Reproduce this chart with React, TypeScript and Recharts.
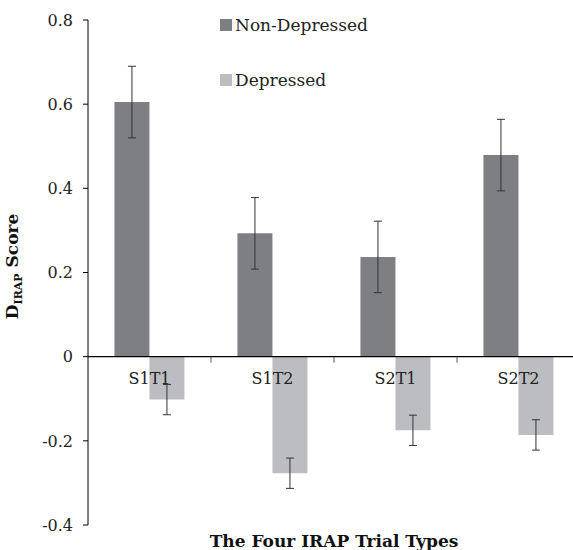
import { BarChart, Bar, XAxis, YAxis, ErrorBar, ReferenceLine, Label } from "recharts"

const categories = ["S1T1", "S1T2", "S2T1", "S2T2"]
const nonDepressed = [0.605, 0.293, 0.237, 0.479]
const nonDepressedErr = [0.085, 0.085, 0.085, 0.085]
const depressed = [-0.102, -0.277, -0.175, -0.186]
const depressedErr = [0.036, 0.036, 0.036, 0.036]
const yTicks = [-0.4, -0.2, 0, 0.2, 0.4, 0.6, 0.8]

const data = categories.map((c, i) => ({
  name: c,
  nonDep: nonDepressed[i],
  nonDepErr: nonDepressedErr[i],
  dep: depressed[i],
  depErr: depressedErr[i],
}))

const FONT = "DejaVu Serif"
const W = 580
const H = 550
const TOP = 20
const LEFT = 88
const XH = 25
const Y_MIN = -0.4
const Y_MAX = 0.8
const PLOT_H = H - TOP - XH
const PLOT_W = W - LEFT
const ZERO_Y = TOP + (Y_MAX / (Y_MAX - Y_MIN)) * PLOT_H
const BAND = PLOT_W / categories.length

const DARK = "#7e7f83"
const LIGHT = "#bcbdc0"

const series = [
  { name: "Non-Depressed", color: DARK },
  { name: "Depressed", color: LIGHT },
]

function CategoryTick(props: any) {
  const { x, payload } = props
  return (
    <g>
      <line x1={x + BAND / 2} x2={x + BAND / 2} y1={ZERO_Y} y2={ZERO_Y + 6} stroke="#555" />
      <text x={x} y={ZERO_Y + 27} textAnchor="middle" fontFamily={FONT} fontSize={16} fill="#222">
        {payload.value}
      </text>
    </g>
  )
}

function YTitle(props: any) {
  const vb = props.viewBox
  const cx = 18
  const cy = vb.y + vb.height / 2 - 6
  return (
    <text
      transform={`translate(${cx},${cy}) rotate(-90)`}
      textAnchor="middle"
      fontFamily={FONT}
      fontWeight="bold"
      fontSize={17}
      fill="#111"
    >
      <tspan>D</tspan>
      <tspan fontSize={11} dy={4}>IRAP</tspan>
      <tspan dy={-4}> Score</tspan>
    </text>
  )
}

function XTitle(props: any) {
  const vb = props.viewBox
  return (
    <text
      x={vb.x + vb.width / 2}
      y={vb.y + 22}
      textAnchor="middle"
      fontFamily={FONT}
      fontWeight="bold"
      fontSize={17}
      fill="#111"
    >
      The Four IRAP Trial Types
    </text>
  )
}

export default function App() {
  return (
    <div style={{ width: 573, height: 550, overflow: "hidden", position: "relative" }}>
      <style>{"body{margin:0;overflow:hidden}"}</style>
      <BarChart
        width={W}
        height={H}
        data={data}
        margin={{ top: TOP, right: 0, bottom: 0, left: 0 }}
        barCategoryGap="21.5%"
        barGap={0}
      >
        <YAxis
          width={LEFT}
          domain={[Y_MIN, Y_MAX]}
          ticks={yTicks}
          interval={0}
          tickSize={5}
          tickMargin={10}
          tick={{ fontFamily: FONT, fontSize: 16, fill: "#222" }}
          axisLine={{ stroke: "#000" }}
          tickLine={{ stroke: "#000" }}
          tickFormatter={(v: number) => String(v)}
        >
          <Label content={<YTitle />} />
        </YAxis>
        <XAxis
          dataKey="name"
          height={XH}
          axisLine={false}
          tickLine={false}
          tick={<CategoryTick />}
          interval={0}
        >
          <Label content={<XTitle />} />
        </XAxis>
        <Bar dataKey="nonDep" name="Non-Depressed" fill={DARK} isAnimationActive={false}>
          <ErrorBar dataKey="nonDepErr" width={4} stroke="#333" strokeWidth={1} />
        </Bar>
        <Bar dataKey="dep" name="Depressed" fill={LIGHT} isAnimationActive={false}>
          <ErrorBar dataKey="depErr" width={4} stroke="#333" strokeWidth={1} />
        </Bar>
        <ReferenceLine y={0} stroke="#000" strokeWidth={1.2} />
      </BarChart>
      <div
        style={{
          position: "absolute",
          left: 220,
          top: -3,
          fontFamily: FONT,
          fontSize: 17,
          color: "#222",
        }}
      >
        {series.map((s) => (
          <div key={s.name} style={{ display: "flex", alignItems: "center", height: 55 }}>
            <span style={{ width: 12, height: 12, background: s.color, marginRight: 3, display: "inline-block" }} />
            <span>{s.name}</span>
          </div>
        ))}
      </div>
    </div>
  )
}
